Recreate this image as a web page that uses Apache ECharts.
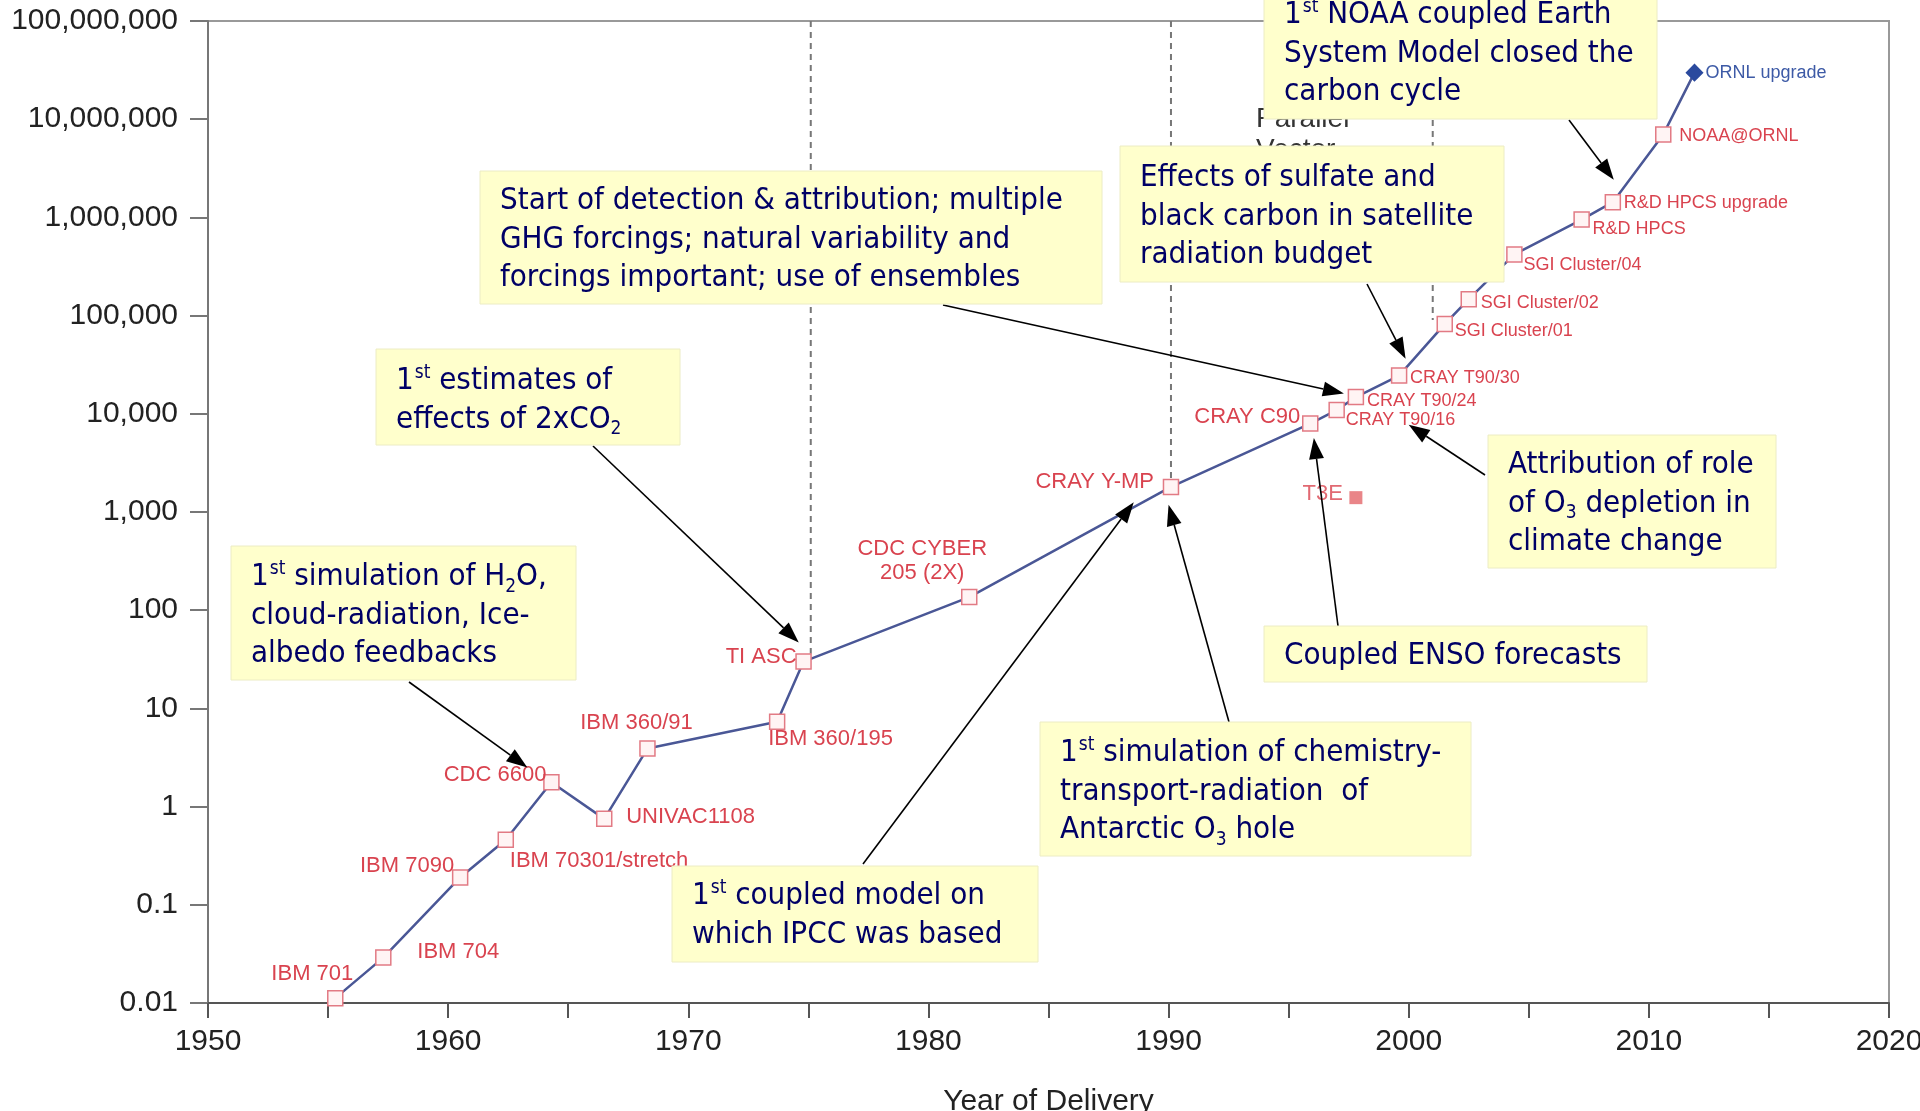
<!DOCTYPE html>
<html><head><meta charset="utf-8">
<script src="https://cdn.jsdelivr.net/npm/echarts@6/dist/echarts.min.js"></script>
<style>html,body{margin:0;padding:0;background:#fff}#c{width:1920px;height:1111px}</style>
</head><body><div id="c"></div>
<script>
// ---------------- DATA ----------------
const machineNames = ['IBM 701','IBM 704','IBM 7090','IBM 70301/stretch','CDC 6600','UNIVAC1108','IBM 360/91','IBM 360/195','TI ASC','CDC CYBER\n205 (2X)','CRAY Y-MP','CRAY C90','CRAY T90/16','CRAY T90/24','CRAY T90/30','SGI Cluster/01','SGI Cluster/02','SGI Cluster/04','R&D HPCS','R&D HPCS upgrade','NOAA@ORNL','ORNL upgrade'];
const deliveryYears = [1955.3,1957.3,1960.5,1962.4,1964.3,1966.5,1968.3,1973.7,1974.8,1981.7,1990.1,1995.9,1997.0,1997.8,1999.6,2001.5,2002.5,2004.4,2007.2,2008.5,2010.6,2011.9];
const computerPower = [0.0112,0.029,0.19,0.46,1.77,0.75,3.9,7.3,30,136,1800,7950,10900,14800,24500,82000,147000,420000,950000,1430000,7000000,29800000];
const t3eNames = ['T3E'];
const t3eYears = [1997.8];
const t3ePower = [1400];
const eraYears = [1975.1, 1990.1, 2001.0];
const eraFloor = [36, 2100, 90000];
const eraCeiling = 1e8;
const eraText = 'Parallel\nVector';
const xTickLabels = ['1950','1960','1970','1980','1990','2000','2010','2020'];
const yTickLabels = ['0.01','0.1','1','10','100','1,000','10,000','100,000','1,000,000','10,000,000','100,000,000'];
const noteTexts = [
  '1{sup|st} simulation of H{sub|2}O,\ncloud-radiation, Ice-\nalbedo feedbacks',
  '1{sup|st} estimates of\neffects of 2xCO{sub|2}',
  'Start of detection & attribution; multiple\nGHG forcings; natural variability and\nforcings important; use of ensembles',
  '1{sup|st} coupled model on\nwhich IPCC was based',
  '1{sup|st} simulation of chemistry-\ntransport-radiation  of\nAntarctic O{sub|3} hole',
  'Coupled ENSO forecasts',
  'Attribution of role\nof O{sub|3} depletion in\nclimate change',
  'Effects of sulfate and\nblack carbon in satellite\nradiation budget',
  '1{sup|st} NOAA coupled Earth\nSystem Model closed the\ncarbon cycle'
];
const noteTargetYears = [1963.3, 1974.6, 1997.3, 1988.55, 1990.0, 1996.05, 2000.0, 1999.87, 2008.54];
const noteTargetPower = [2.5, 47, 16100, 1256, 1186, 5660, 7740, 36400, 2420000];

// ---------------- LAYOUT / STYLE ----------------
const LABEL_FONT = '"Liberation Sans", Arial, Helvetica, sans-serif';
const NOTE_FONT = '"DejaVu Sans Condensed", "DejaVu Sans", sans-serif';
const RED = '#d9434f';
// [dx, dy, align, fontSize]
const labelPlace = {
  'IBM 701': [18,-24,'right',22],
  'IBM 704': [34,-6,'left',22],
  'IBM 7090': [-6,-11,'right',22],
  'IBM 70301/stretch': [4,21,'left',22],
  'CDC 6600': [-5,-7,'right',22],
  'UNIVAC1108': [22,-2,'left',22],
  'IBM 360/91': [-11,-26,'center',22],
  'IBM 360/195': [-9,17,'left',22],
  'TI ASC': [-7,-5,'right',22],
  'CDC CYBER\n205 (2X)': [-47,-36,'center',22],
  'CRAY Y-MP': [-17,-5,'right',22],
  'CRAY C90': [-10,-7,'right',22],
  'CRAY T90/16': [9,10,'left',18],
  'CRAY T90/24': [11,4,'left',18],
  'CRAY T90/30': [11,2,'left',18],
  'SGI Cluster/01': [10,7,'left',18],
  'SGI Cluster/02': [12,4,'left',18],
  'SGI Cluster/04': [9,11,'left',18],
  'R&D HPCS': [11,9,'left',18],
  'R&D HPCS upgrade': [11,1,'left',18],
  'NOAA@ORNL': [16,2,'left',18],
  'ORNL upgrade': [11,0,'left',18],
  'T3E': [-13,-4,'right',22]
};
// note boxes: [x, y, w, h, firstLineCenterY], arrow tail [x, y]
const noteBoxes = [
  [231,546,345,134,577],
  [376,349,304,96,381],
  [480,171,622,133,201],
  [672,866,366,96,896],
  [1040,722,431,134,753],
  [1264,626,383,56,656],
  [1488,435,288,133,465],
  [1120,146,384,136,178],
  [1264,-2,393,121,15]
];
const arrowTails = [[409,682],[593,446],[943,305],[863,864],[1229,722],[1338,626],[1485,475],[1367,284],[1569,120]];
const NOTE_LH = 38.6;

const chart = echarts.init(document.getElementById('c'), null, {renderer:'canvas'});

const mainData = machineNames.map((n, i) => {
  const p = labelPlace[n];
  const item = {
    name: n,
    value: [deliveryYears[i], computerPower[i]],
    label: { show: true, position: 'inside', offset: [p[0], p[1]], align: p[2], verticalAlign: 'middle',
      fontSize: p[3], lineHeight: 24, color: RED, fontFamily: LABEL_FONT, formatter: '{b}' }
  };
  if (n === 'ORNL upgrade') {
    item.symbol = 'diamond';
    item.symbolSize = 16;
    item.itemStyle = { color: '#2b4a9e', borderColor: '#2b4a9e' };
    item.label.color = '#3d5aa6';
  }
  return item;
});

const eraSeries = eraYears.map((yr, i) => ({
  type: 'line', silent: true, symbol: 'none', z: 1,
  data: [[yr, eraCeiling], [yr, eraFloor[i]]],
  lineStyle: { color: '#777', width: 2, type: [6, 5] }
}));

const option = {
  animation: false,
  backgroundColor: '#fff',
  grid: { left: 208, right: 31, top: 21, bottom: 108, outerBoundsMode: 'none', containLabel: false,
    show: true, borderColor: '#999', borderWidth: 2, backgroundColor: 'transparent' },
  xAxis: {
    type: 'value', min: 1950, max: 2020, interval: 5,
    splitLine: { show: false },
    axisLine: { show: true, onZero: false, lineStyle: { color: '#555', width: 2 } },
    axisTick: { show: true, length: 15, lineStyle: { color: '#555', width: 2 } },
    axisLabel: { margin: 24, fontSize: 30, color: '#222', fontFamily: LABEL_FONT,
      formatter: v => (Math.round(v) % 10 === 0 ? xTickLabels[Math.round((v - 1950) / 10)] : '') },
    name: 'Year of Delivery', nameLocation: 'middle', nameGap: 84,
    nameTextStyle: { fontSize: 30, color: '#222', fontFamily: LABEL_FONT }
  },
  yAxis: {
    type: 'log', logBase: 10, min: 0.01, max: 1e8, interval: 1,
    splitLine: { show: false },
    axisLine: { show: true, lineStyle: { color: '#777', width: 2 } },
    axisTick: { show: true, length: 18, lineStyle: { color: '#777', width: 2 } },
    axisLabel: { margin: 30, fontSize: 30, color: '#222', fontFamily: LABEL_FONT,
      formatter: v => yTickLabels[Math.round(Math.log10(v)) + 2] },
    name: 'Log (Computer Power)', nameLocation: 'middle', nameGap: 176,
    nameTextStyle: { fontSize: 30, color: '#222', fontFamily: LABEL_FONT }
  },
  series: [
    ...eraSeries,
    {
      type: 'line', name: 'machines', z: 3,
      data: mainData,
      symbol: 'rect', symbolSize: 15,
      itemStyle: { color: '#fff4f4', borderColor: '#e27a84', borderWidth: 1.5 },
      lineStyle: { color: '#4a5796', width: 2.5 },
      emphasis: { disabled: true }
    },
    {
      type: 'scatter', name: 'T3E', z: 3,
      data: t3eNames.map((n, i) => {
        const p = labelPlace[n];
        return { name: n, value: [t3eYears[i], t3ePower[i]],
          label: { show: true, position: 'inside', offset: [p[0], p[1]], align: p[2], fontSize: p[3], color: RED, fontFamily: LABEL_FONT, formatter: '{b}' } };
      }),
      symbol: 'rect', symbolSize: 13,
      itemStyle: { color: '#e4676a' }
    }
  ]
};
chart.setOption(option);

// ---------------- ANNOTATIONS ----------------
const graphics = [];
// partially hidden era caption
graphics.push({ type: 'text', x: 1256, y: 104, z: 50,
  style: { text: eraText, font: '28px ' + LABEL_FONT, fill: '#333', lineHeight: 31, verticalAlign: 'top' } });

const rich = {
  sup: { font: '19px ' + NOTE_FONT, fill: '#000066', verticalAlign: 'top', lineHeight: 24, padding: [2, 0, 0, 1] },
  sub: { font: '19px ' + NOTE_FONT, fill: '#000066', verticalAlign: 'bottom', lineHeight: 22, padding: [0, 0, 0, 0] }
};

noteTexts.forEach((t, i) => {
  const [bx, by, bw, bh, fy] = noteBoxes[i];
  const tip = chart.convertToPixel({ xAxisIndex: 0, yAxisIndex: 0 }, [noteTargetYears[i], noteTargetPower[i]]);
  const tail = arrowTails[i];
  const dx = tip[0] - tail[0], dy = tip[1] - tail[1];
  const len = Math.sqrt(dx * dx + dy * dy);
  const ux = dx / len, uy = dy / len;
  const headLen = 21, headW = 7.5;
  const bxp = tip[0] - ux * headLen, byp = tip[1] - uy * headLen;
  graphics.push({ type: 'line', z: 90, silent: true,
    shape: { x1: tail[0], y1: tail[1], x2: bxp, y2: byp },
    style: { stroke: '#000', lineWidth: 1.6 } });
  graphics.push({ type: 'polygon', z: 90, silent: true,
    shape: { points: [[tip[0], tip[1]], [bxp - uy * headW, byp + ux * headW], [bxp + uy * headW, byp - ux * headW]] },
    style: { fill: '#000' } });
  graphics.push({ type: 'rect', z: 100, silent: true,
    shape: { x: bx, y: by, width: bw, height: bh },
    style: { fill: '#ffffcc', stroke: '#ececc4', lineWidth: 1 } });
  graphics.push({ type: 'text', z: 101, silent: true, x: bx + 20, y: fy - NOTE_LH / 2,
    style: { text: t, rich: rich, font: '31px ' + NOTE_FONT, fill: '#000066', lineHeight: NOTE_LH, verticalAlign: 'top' } });
});

chart.setOption({ graphic: graphics });
</script>
</body></html>
